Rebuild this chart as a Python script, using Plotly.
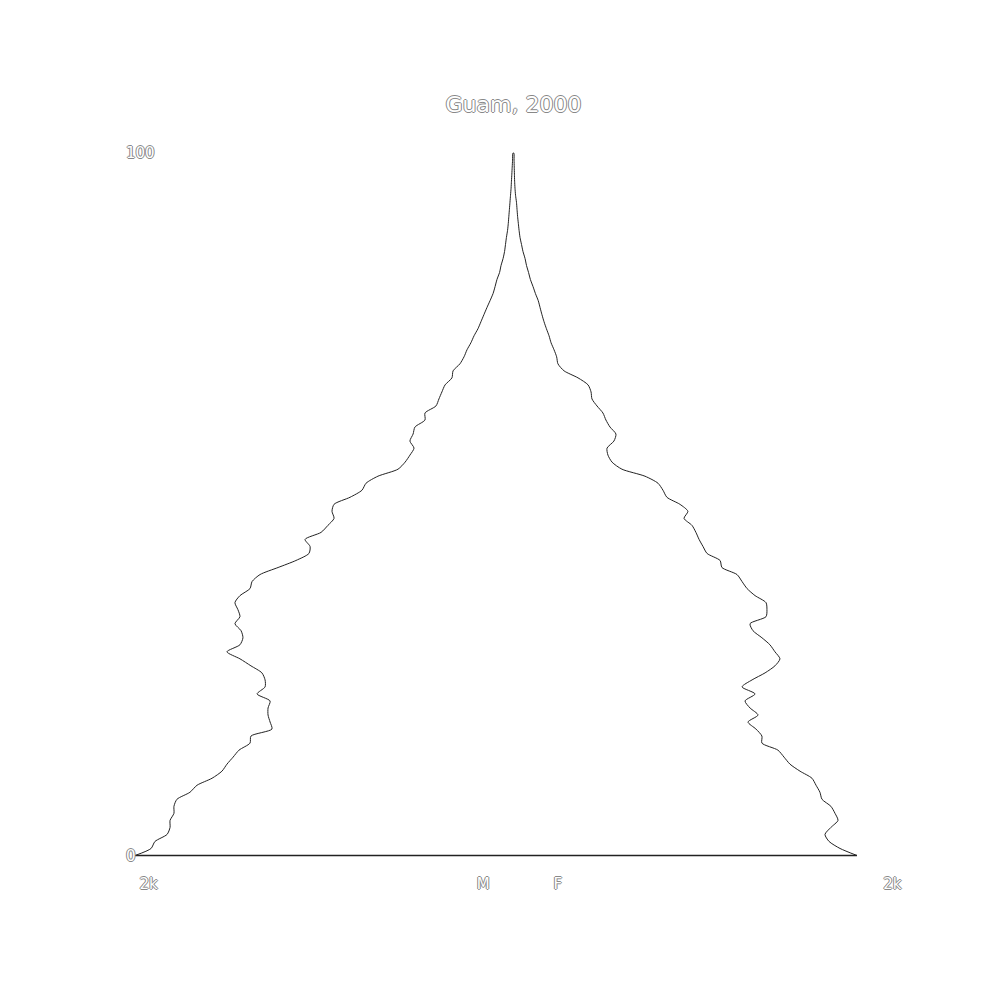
import plotly.graph_objects as go

# Guam, 2000 - population by single year of age
ages = list(range(0, 101))

male = [2035, 1949, 1928, 1863, 1847, 1847, 1826, 1826, 1810, 1740,
        1702, 1621, 1568, 1541, 1508, 1476, 1417, 1412, 1299, 1309,
        1320, 1320, 1309, 1379, 1336, 1336, 1353, 1412, 1471, 1541,
        1471, 1455, 1465, 1498, 1471, 1482, 1498, 1471, 1417, 1406,
        1363, 1266, 1170, 1100, 1094, 1121, 1035, 998, 965, 976,
        965, 879, 815, 793, 729, 621, 583, 557, 535, 557,
        540, 530, 476, 476, 417, 401, 385, 368, 331, 325,
        288, 266, 250, 229, 212, 191, 175, 159, 143, 126,
        110, 99, 89, 75, 67, 56, 48, 43, 38, 32,
        28, 25, 22, 19, 16, 13, 11, 9, 7, 5, 3]

female = [1847, 1756, 1697, 1675, 1707, 1745, 1729, 1707, 1659, 1648,
          1627, 1605, 1541, 1487, 1455, 1422, 1336, 1336, 1304, 1261,
          1315, 1272, 1245, 1299, 1229, 1283, 1353, 1406, 1433, 1406,
          1379, 1336, 1288, 1272, 1358, 1363, 1358, 1299, 1256, 1229,
          1202, 1121, 1111, 1041, 1019, 998, 981, 960, 917, 938,
          895, 825, 804, 777, 707, 583, 530, 508, 503, 540,
          551, 519, 497, 481, 449, 422, 417, 401, 347, 272,
          239, 232, 218, 202, 191, 177, 164, 153, 143, 133,
          118, 105, 91, 81, 70, 62, 51, 43, 35, 30,
          26, 22, 19, 16, 11, 8, 6, 5, 4, 3, 2]

x_ticks = [-2000, -200, 200, 2000]
x_labels = ["2k", "M", "F", "2k"]
y_ticks = [0, 100]
y_labels = ["0", "100"]

# outline: males on the left (negative), females on the right
xs = [-v for v in male] + female[::-1]
ys = ages + ages[::-1]

outline = "-1px 0 #888, 1px 0 #888, 0 -1px #888, 0 1px #888"
label_font = dict(family="DejaVu Sans", size=15, color="white", shadow=outline)

fig = go.Figure()
fig.add_trace(go.Scatter(
    x=xs, y=ys,
    mode="lines",
    line=dict(color="#222", width=1, shape="spline", smoothing=0.7),
    fill="toself",
    fillcolor="white",
    hoverinfo="skip",
    showlegend=False,
))
# base of the pyramid at age 0
fig.add_trace(go.Scatter(
    x=[-male[0], female[0]], y=[ages[0], ages[0]],
    mode="lines",
    line=dict(color="#222", width=1.3),
    hoverinfo="skip",
    showlegend=False,
))

fig.update_layout(
    width=1000, height=1000,
    paper_bgcolor="white",
    plot_bgcolor="white",
    margin=dict(l=115, r=104, t=143, b=149),
    title=dict(text="Guam, 2000", x=0.5, xref="paper", xanchor="center",
               y=0.904, yanchor="middle",
               font=dict(family="DejaVu Sans", size=22, color="white",
                         shadow=outline)),
    font=label_font,
)
fig.update_xaxes(range=[-2100, 2100], tickvals=x_ticks, ticktext=x_labels,
                 showgrid=False, zeroline=False, showline=False,
                 ticks="", ticklabelshift=7, ticklabelstandoff=14,
                 tickfont=label_font)
fig.update_yaxes(range=[-0.5, 100.3], tickvals=y_ticks, ticktext=y_labels,
                 showgrid=False, zeroline=False, showline=False,
                 ticks="", ticklabelposition="inside",
                 ticklabeloverflow="allow", tickfont=label_font)

fig.write_html("out.html")
